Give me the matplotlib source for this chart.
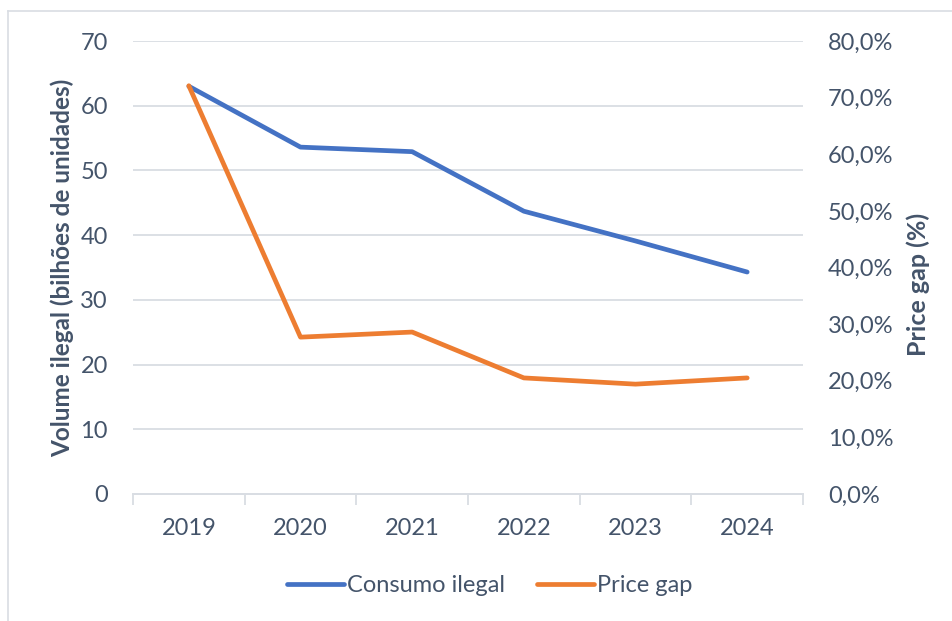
import matplotlib
matplotlib.use("Agg")
import matplotlib.pyplot as plt
from matplotlib.lines import Line2D
from matplotlib.ticker import FuncFormatter, MultipleLocator, FixedLocator

years = ["2019", "2020", "2021", "2022", "2023", "2024"]
consumo_ilegal = [63.0, 53.6, 52.9, 43.7, 39.1, 34.3]
price_gap = [72.1, 27.7, 28.6, 20.5, 19.4, 20.5]

TEXT = "#44546A"
GRID = "#D9DDE3"
BLUE = "#4472C4"
ORANGE = "#ED7D31"

plt.rcParams["font.family"] = ["Lato", "DejaVu Sans"]

fig = plt.figure(figsize=(9.53, 6.21), dpi=100)
ax = fig.add_axes([133 / 953, 127 / 621, 670 / 953, 453 / 621])
ax2 = ax.twinx()

x = list(range(len(years)))
l1, = ax.plot(x, consumo_ilegal, color=BLUE, lw=3.4, solid_capstyle="round", zorder=3)
l2, = ax2.plot(x, price_gap, color=ORANGE, lw=3.4, solid_capstyle="round", zorder=3)

ax.set_xlim(-0.5, len(years) - 0.5)
ax.set_ylim(0, 70)
ax.yaxis.set_major_locator(MultipleLocator(10))
ax.grid(axis="y", color=GRID, lw=1.3)
ax.set_axisbelow(True)
ax2.set_ylim(0, 80)
ax2.yaxis.set_major_locator(MultipleLocator(10))
ax2.yaxis.set_major_formatter(FuncFormatter(lambda v, p: f"{v:.1f}%".replace(".", ",")))

ax.set_xticks(x)
ax.set_xticklabels(years)
ax.xaxis.set_minor_locator(FixedLocator([i - 0.5 for i in range(len(years) + 1)]))
ax.tick_params(axis="x", which="major", length=0, pad=17, labelsize=17, labelcolor=TEXT)
ax.tick_params(axis="x", which="minor", length=8, width=1.3, color=GRID)
ax.tick_params(axis="y", length=0, pad=18, labelsize=17, labelcolor=TEXT)
ax2.tick_params(axis="y", length=0, pad=18, labelsize=17, labelcolor=TEXT)

for a in (ax, ax2):
    for s in ("top", "left", "right"):
        a.spines[s].set_visible(False)
    a.spines["bottom"].set_color(GRID)
    a.spines["bottom"].set_linewidth(1.3)

ax.set_ylabel("Volume ilegal (bilhões de unidades)", fontsize=17.5, fontweight="bold", color=TEXT)
ax2.set_ylabel("Price gap (%)", fontsize=18, fontweight="bold", color=TEXT)
ax.yaxis.label.set_va("center")
ax2.yaxis.label.set_va("center")
ax.yaxis.set_label_coords((62 - 133) / 670, (494 - 268) / 453)
ax2.yaxis.set_label_coords((918 - 133) / 670, (494 - 284) / 453)

fig.legend([l1, l2], ["Consumo ilegal", "Price gap"], loc="center", bbox_to_anchor=(490 / 953, 35 / 621),
           ncol=2, frameon=False, fontsize=17, labelcolor=TEXT, handlelength=2.4,
           handletextpad=0.15, columnspacing=1.35)

# outer chart border (left and top edges visible)
fig.add_artist(Line2D([8 / 953, 8 / 953], [0, 1 - 11 / 621], transform=fig.transFigure,
                      color=GRID, lw=1.2))
fig.add_artist(Line2D([8 / 953, 1], [1 - 11 / 621, 1 - 11 / 621], transform=fig.transFigure,
                      color=GRID, lw=1.2))

fig.savefig("out.png", dpi=100)
